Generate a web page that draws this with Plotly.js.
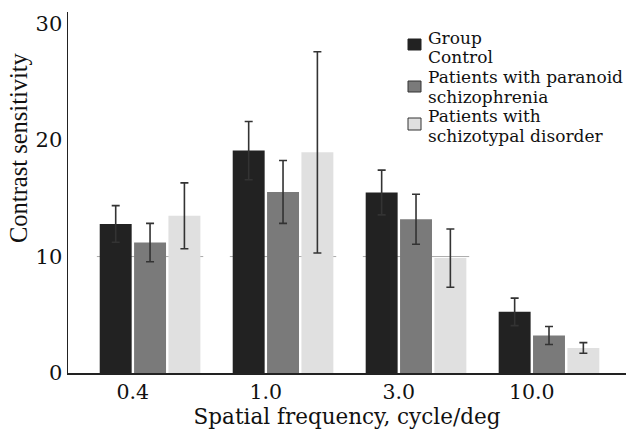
<!DOCTYPE html>
<html>
<head>
<meta charset="utf-8">
<script src="https://cdn.plot.ly/plotly-3.0.1.min.js"></script>
<style>html,body{margin:0;padding:0;background:#fff;}#chart{width:626px;height:437px;}</style>
</head>
<body>
<div id="chart"></div>
<script>
// ---- data ----
const categories = ['0.4', '1.0', '3.0', '10.0'];
const seriesNames = ['Control', 'Patients with paranoid schizophrenia', 'Patients with schizotypal disorder'];
const controlValues = [12.8, 19.1, 15.5, 5.25];
const controlErrors = [1.57, 2.5, 1.92, 1.18];
const paranoidValues = [11.2, 15.55, 13.2, 3.22];
const paranoidErrors = [1.65, 2.7, 2.15, 0.77];
const schizotypalValues = [13.5, 18.95, 9.87, 2.15];
const schizotypalErrors = [2.83, 8.64, 2.5, 0.46];
const yTicks = [0, 10, 20, 30];
const xTitle = 'Spatial frequency, cycle/deg';
const yTitle = 'Contrast sensitivity';
const legendLines = [['Group', 'Control'], ['Patients with paranoid', 'schizophrenia'], ['Patients with', 'schizotypal disorder']];

// ---- styling ----
const FONT = 'DejaVu Serif, Liberation Serif, serif';
const FONT_V = 'Liberation Serif, Times New Roman, serif';
const colors = ['#222222', '#7a7a7a', '#e0e0e0'];
const positions = categories.map((c, i) => i);

const values = [controlValues, paranoidValues, schizotypalValues];
const errors = [controlErrors, paranoidErrors, schizotypalErrors];

const traces = values.map((v, k) => ({
  type: 'bar',
  name: seriesNames[k],
  x: positions,
  y: v,
  marker: {color: colors[k], line: {width: 0}},
  error_y: {type: 'data', array: errors[k], visible: true, color: '#333333', thickness: 1.6, width: 4},
  showlegend: false,
  hoverinfo: 'skip'
}));

// faint reference line at 10, drawn behind the groups that reach it
const shapes = [];
positions.forEach((p, i) => {
  const groupMax = Math.max(controlValues[i], paranoidValues[i], schizotypalValues[i]);
  if (groupMax > 10) {
    shapes.push({
      type: 'line', xref: 'x', yref: 'y', x0: p - 0.4, x1: p + 0.4, y0: 10, y1: 10,
      line: {color: '#aaaaaa', width: 1}, layer: 'below'
    });
  }
});

// hand-built legend
const M = {l: 68, r: 0, t: 12, b: 64};
const W = 626, H = 437;
const pw = W - M.l - M.r, ph = H - M.t - M.b;
const px = x => (x - M.l) / pw;
const py = y => (H - M.b - y) / ph;
const boxPx = [[39, 50], [81, 92], [118, 130]];
const lineCenters = [[37.5, 57], [77, 96.5], [116, 135.5]];
boxPx.forEach((b, k) => {
  shapes.push({
    type: 'rect', xref: 'paper', yref: 'paper',
    x0: px(408), x1: px(421), y0: py(b[1]), y1: py(b[0]),
    fillcolor: colors[k], line: {color: k === 0 ? colors[0] : '#333333', width: 1}
  });
});
const annotations = [];
legendLines.forEach((lines, k) => {
  lines.forEach((t, j) => {
    annotations.push({
      xref: 'paper', yref: 'paper', x: px(426), y: py(lineCenters[k][j]),
      xanchor: 'left', yanchor: 'middle', text: t, showarrow: false,
      font: {family: FONT, size: 17, color: '#111111'}
    });
  });
});
// y-axis title (placed as in the reference, above the plot centre)
annotations.push({
  xref: 'paper', yref: 'paper', x: px(18.5), y: py(147.5),
  xanchor: 'center', yanchor: 'middle', textangle: -90, text: yTitle, showarrow: false,
  font: {family: FONT_V, size: 24.5, color: '#111111'}
});

const layout = {
  width: W, height: H,
  margin: M,
  paper_bgcolor: '#ffffff', plot_bgcolor: '#ffffff',
  font: {family: FONT, color: '#111111'},
  barmode: 'group', bargap: 0.225, bargroupgap: 0.07,
  xaxis: {
    range: [-0.617, 3.579],
    tickvals: positions.map(p => p - 0.13), ticktext: categories,
    showline: true, linecolor: '#222222', linewidth: 1.5,
    ticks: '', showgrid: false, zeroline: false,
    tickfont: {family: FONT, size: 20.5, color: '#111111'},
    title: {text: xTitle, font: {family: FONT, size: 21.5, color: '#111111'}, standoff: 0}
  },
  yaxis: {
    range: [0, 31],
    tickvals: yTicks, ticktext: yTicks.map(String),
    showline: true, linecolor: '#222222', linewidth: 1.5,
    ticks: '', showgrid: false, zeroline: false,
    tickfont: {family: FONT, size: 21, color: '#111111'}
  },
  shapes: shapes,
  annotations: annotations
};

Plotly.newPlot('chart', traces, layout, {displayModeBar: false, staticPlot: true});
</script>
</body>
</html>
